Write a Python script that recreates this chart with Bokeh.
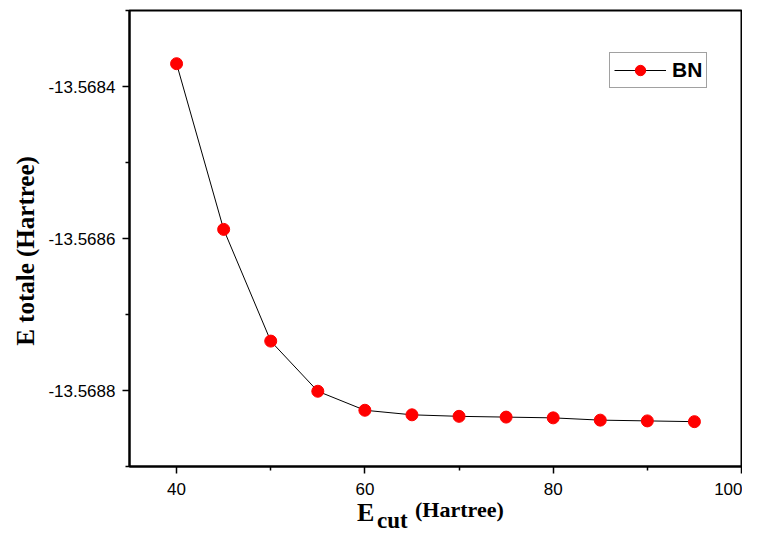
from bokeh.plotting import figure
from bokeh.models import FixedTicker, PrintfTickFormatter, Range1d, Legend, LegendItem, Div
from bokeh.layouts import column
from bokeh.embed import file_html
from bokeh.resources import INLINE

# Data
ecut = [40, 45, 50, 55, 60, 65, 70, 75, 80, 85, 90, 95]
etot = [-13.568370, -13.568588, -13.568735, -13.568801, -13.568826, -13.568832,
        -13.568834, -13.568835, -13.568836, -13.568839, -13.568840, -13.568841]
x_ticks = [40, 60, 80, 100]
x_minor = [50, 70, 90]
y_ticks = [-13.5684, -13.5686, -13.5688]
y_minor = [-13.5683, -13.5685, -13.5687, -13.5689]
series_name = "BN"
y_title = "E totale (Hartree)"
x_title_main = "E"
x_title_sub = "cut"
x_title_unit = "(Hartree)"

p = figure(width=742, height=500, output_backend="svg", toolbar_location=None,
           x_range=Range1d(35, 100), y_range=Range1d(-13.5689, -13.5683),
           min_border_left=129, min_border_right=1, min_border_top=10, min_border_bottom=34)
p.background_fill_color = "white"
p.border_fill_color = "white"
p.xgrid.visible = False
p.ygrid.visible = False
p.outline_line_color = "black"
p.outline_line_width = 2

p.xaxis.ticker = FixedTicker(ticks=x_ticks, minor_ticks=x_minor)
p.yaxis.ticker = FixedTicker(ticks=y_ticks, minor_ticks=y_minor)
p.yaxis.formatter = PrintfTickFormatter(format="%.4f")
for ax in (p.xaxis[0], p.yaxis[0]):
    ax.axis_line_width = 2
    ax.axis_line_color = "black"
    ax.major_tick_line_width = 1.5
    ax.minor_tick_line_width = 1.5
    ax.major_tick_line_color = "black"
    ax.minor_tick_line_color = "black"
    ax.major_tick_out = 7
    ax.major_tick_in = 0
    ax.minor_tick_out = 4
    ax.minor_tick_in = 0
    ax.major_label_text_font = "Liberation Sans"
    ax.major_label_text_font_size = "17px"
    ax.major_label_text_color = "black"
p.xaxis.major_label_standoff = 9
p.yaxis.major_label_standoff = 7

# trailing no-break spaces nudge the centred title slightly downward, as in the reference
p.yaxis.axis_label = y_title + "\u00a0\u00a0\u00a0\u00a0"
p.yaxis.axis_label_text_font = "Liberation Serif"
p.yaxis.axis_label_text_font_style = "bold"
p.yaxis.axis_label_text_font_size = "25px"
p.yaxis.axis_label_text_color = "black"
p.yaxis.axis_label_standoff = 6

ln = p.line(ecut, etot, line_color="black", line_width=1)
sc = p.scatter(ecut, etot, size=12, fill_color="red", line_color="red")

legend = Legend(items=[LegendItem(label=series_name, renderers=[ln, sc])],
                location=(480, 378))
legend.label_text_font = "Liberation Sans"
legend.label_text_font_style = "bold"
legend.label_text_font_size = "21px"
legend.label_text_color = "black"
legend.glyph_width = 52
legend.glyph_height = 26
legend.label_height = 26
legend.label_standoff = 6
legend.padding = 4
legend.margin = 0
legend.spacing = 0
legend.border_line_color = "#444444"
legend.border_line_width = 1
legend.background_fill_color = "white"
p.add_layout(legend)

span_base = "position:absolute;line-height:1;white-space:nowrap;"
html = (
    '<div style="position:relative;width:742px;height:28px;overflow:visible;'
    'font-family:\'Liberation Serif\';font-weight:bold;color:black;">'
    f'<span style="{span_base}left:357px;top:0px;font-size:26px;">{x_title_main}</span>'
    f'<span style="{span_base}left:377px;top:9px;font-size:23px;">{x_title_sub}</span>'
    f'<span style="{span_base}left:415px;top:-1px;font-size:22px;">{x_title_unit}</span>'
    '</div>'
)
xt = Div(text=html, width=742, height=28, margin=0, styles={"overflow": "visible"})

layout = column(p, xt, spacing=0)
open("out.html", "w").write(file_html(layout, INLINE))
